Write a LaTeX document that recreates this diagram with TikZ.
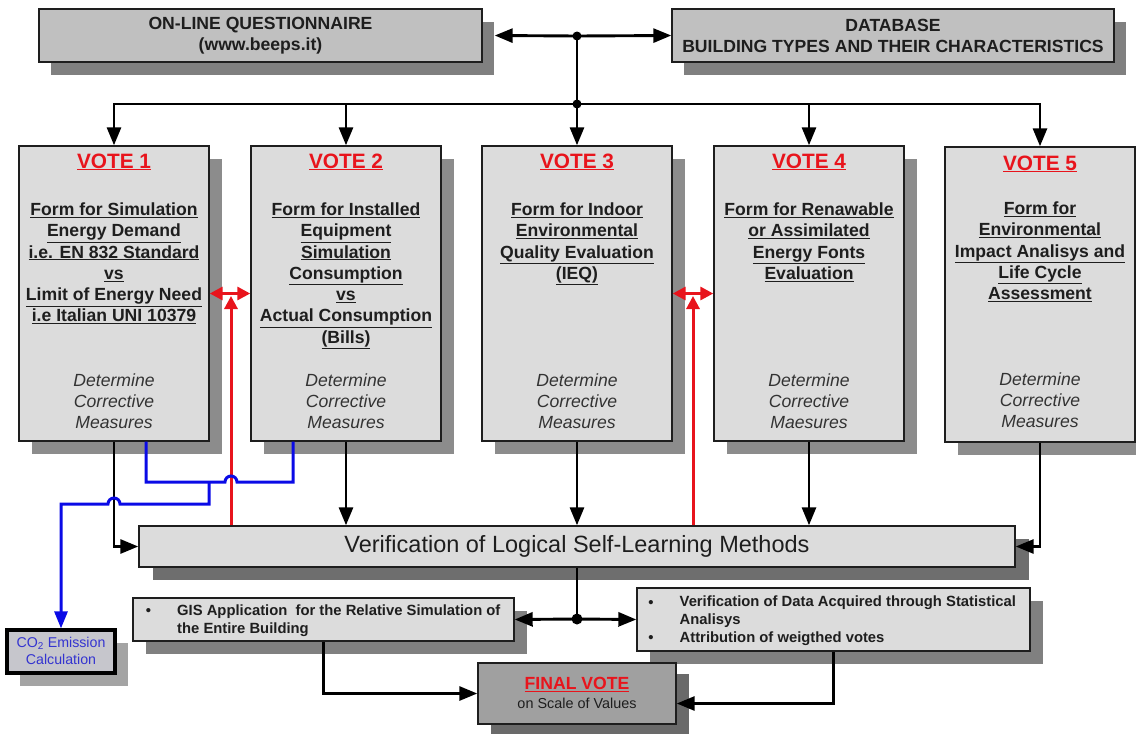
\documentclass[tikz,border=0pt]{standalone}
\usepackage{fontspec}
\setmainfont{Liberation Sans}
\usetikzlibrary{arrows.meta,shadows}

\definecolor{topfill}{HTML}{C0C0C0}
\definecolor{topshade}{HTML}{808080}
\definecolor{votefill}{HTML}{DCDCDC}
\definecolor{voteshade}{HTML}{8C8C8C}
\definecolor{vershade}{HTML}{6E6E6E}
\definecolor{finfill}{HTML}{A0A0A0}
\definecolor{finshade}{HTML}{6A6A6A}
\definecolor{co2fill}{HTML}{C6C6CC}
\definecolor{co2shade}{HTML}{A4A4A4}
\definecolor{votered}{HTML}{E8141C}
\definecolor{linkblue}{HTML}{0A0AE6}
\definecolor{ink}{HTML}{1E1E1E}
\definecolor{softink}{HTML}{333333}
\definecolor{co2text}{HTML}{3434D0}

\newcommand{\ulx}[1]{\underline{#1}}

\begin{document}
\begin{tikzpicture}[x=1pt,y=-1pt,
  box/.style={draw=ink, line width=1.4pt, inner sep=0pt},
  topbox/.style={box, fill=topfill, minimum height=53pt,
    drop shadow={shadow xshift=12pt,shadow yshift=-13pt,fill=topshade,opacity=1}},
  votebox/.style={box, fill=votefill, minimum width=190pt, minimum height=295pt,
    drop shadow={shadow xshift=13pt,shadow yshift=-13pt,fill=voteshade,opacity=1}},
  verbox/.style={box, fill=votefill,
    drop shadow={shadow xshift=14pt,shadow yshift=-13pt,fill=vershade,opacity=1}},
  listbox/.style={box, fill=votefill,
    drop shadow={shadow xshift=13pt,shadow yshift=-13pt,fill=topshade,opacity=1}},
  finbox/.style={box, fill=finfill,
    drop shadow={shadow xshift=13pt,shadow yshift=-11pt,fill=finshade,opacity=1}},
  co2box/.style={draw=black, line width=3.2pt, inner sep=0pt, fill=co2fill,
    drop shadow={shadow xshift=13pt,shadow yshift=-13pt,fill=co2shade,opacity=1}},
  toptext/.style={align=center, inner sep=0pt, text=ink,
    font=\fontsize{17.6}{21}\selectfont\bfseries},
  votetitle/.style={anchor=base, inner sep=0pt, text=votered,
    font=\fontsize{20.8}{24}\selectfont\bfseries},
  votebody/.style={anchor=north, align=center, inner sep=0pt, text=ink,
    font=\fontsize{17.6}{21.3}\selectfont\bfseries},
  voteital/.style={align=center, inner sep=0pt, text=softink,
    font=\fontsize{17.6}{21}\selectfont\itshape},
  listtext/.style={anchor=west, align=left, inner sep=0pt, text=ink,
    font=\fontsize{14.8}{18}\selectfont\bfseries},
  bullet/.style={anchor=base, inner sep=0pt, text=ink,
    font=\fontsize{14.8}{18}\selectfont\bfseries},
  wire/.style={line width=2.9pt, draw=black},
  arr/.style={wire, -{Triangle[length=18pt,width=14pt]}},
  redtip/.style={-{Triangle[length=13pt,width=13pt]}},
  redwire/.style={line width=3pt, draw=votered},
  bluewire/.style={line width=3pt, draw=linkblue}
]
\useasboundingbox (0,0) rectangle (1136,734);

% ---------- top row ----------
\node[topbox, minimum width=443pt] (q) at (260.5,35.5) {};
\node[toptext] (qt) at (260.5,35.5) {ON-LINE QUESTIONNAIRE\\(www.beeps.it)};
\node[topbox, minimum width=442pt] (db) at (893,35.5) {};
\node[toptext] (dbt) at (893,35.5) {DATABASE\\BUILDING TYPES AND THEIR CHARACTERISTICS};

% ---------- the five vote forms ----------
\node[votebox] (v1) at (114,293.5) {};
\node[votebox] (v2) at (346,293.5) {};
\node[votebox] (v3) at (577,293.5) {};
\node[votebox] (v4) at (809,293.5) {};
\node[votebox] (v5) at (1040,294.5) {};

\node[votetitle] (t1) at (114,168) {\ulx{VOTE 1}};
\node[votetitle] (t2) at (346,168) {\ulx{VOTE 2}};
\node[votetitle] (t3) at (577,168) {\ulx{VOTE 3}};
\node[votetitle] (t4) at (809,168) {\ulx{VOTE 4}};
\node[votetitle] (t5) at (1040,170) {\ulx{VOTE 5}};

\node[votebody] (b1) at (114,202.5) {\ulx{Form for Simulation}\\\ulx{Energy Demand}\\
  \ulx{i.e. EN 832 Standard}\\\ulx{vs}\\\ulx{Limit of Energy Need}\\\ulx{i.e Italian UNI 10379}};
\node[votebody] (b2) at (346,202.5) {\ulx{Form for Installed}\\\ulx{Equipment}\\
  \ulx{Simulation}\\\ulx{Consumption}\\\ulx{vs}\\\ulx{Actual Consumption}\\\ulx{(Bills)}};
\node[votebody] (b3) at (577,202.5) {\ulx{Form for Indoor}\\\ulx{Environmental}\\
  \ulx{Quality Evaluation}\\\ulx{(IEQ)}};
\node[votebody] (b4) at (809,202.5) {\ulx{Form for Renawable}\\\ulx{or Assimilated}\\
  \ulx{Energy Fonts}\\\ulx{Evaluation}};
\node[votebody] (b5) at (1040,201.5) {\ulx{Form for}\\\ulx{Environmental}\\
  \ulx{Impact Analisys and}\\\ulx{Life Cycle}\\\ulx{Assessment}};

\node[voteital] (m1) at (114,401) {Determine\\Corrective\\Measures};
\node[voteital] (m2) at (346,401) {Determine\\Corrective\\Measures};
\node[voteital] (m3) at (577,401) {Determine\\Corrective\\Measures};
\node[voteital] (m4) at (809,401) {Determine\\Corrective\\Maesures};
\node[voteital] (m5) at (1040,400) {Determine\\Corrective\\Measures};

% ---------- verification and results ----------
\node[verbox, minimum width=876pt, minimum height=41pt] (ver) at (577,546.5) {};
\node[inner sep=0pt, text=ink, font=\fontsize{23.5}{28}\selectfont] (vert) at (577,546.5)
  {Verification of Logical Self-Learning Methods};

\node[listbox, minimum width=381pt, minimum height=43pt] (gis) at (323.5,619.5) {};
\node[bullet] (gb) at (148.5,615.3) {•};
\node[listtext] (gt) at (177,620.5) {GIS Application~ for the Relative Simulation of\\the Entire Building};

\node[listbox, minimum width=393pt, minimum height=63pt] (stat) at (833.5,619.5) {};
\node[bullet] (sb1) at (651,607.3) {•};
\node[bullet] (sb2) at (651,642.3) {•};
\node[listtext] (st) at (679.5,621) {Verification of Data Acquired through Statistical\\Analisys\\Attribution of weigthed votes};

\node[co2box, minimum width=108pt, minimum height=43pt] (co2) at (61,651.5) {};
\node[align=center, inner sep=0pt, text=co2text, font=\fontsize{14.2}{17}\selectfont]
  (co2t) at (61,651) {CO\textsubscript{2} Emission\\Calculation};

\node[finbox, minimum width=198pt, minimum height=61pt] (fin) at (577,693.5) {};
\node[anchor=base, inner sep=0pt, text=votered, font=\fontsize{17.6}{21}\selectfont\bfseries]
  (fint) at (577,689.3) {\ulx{FINAL VOTE}};
\node[inner sep=0pt, text=ink, font=\fontsize{14.4}{17}\selectfont] (fins) at (577,703) {on Scale of Values};

% ---------- junctions ----------
\coordinate (j1) at (577,36);
\coordinate (j2) at (577,104);
\coordinate (j3) at (577,619);

% ---------- black connectors ----------
\draw[wire] (j1) -- (j2);
\draw[arr] (j1) -- ([xshift=12pt]q.east);
\draw[arr] (j1) -- (db.west);
\draw[arr] (j2) -| (v1.north);
\draw[arr] (j2) -| (v2.north);
\draw[arr] (j2) -- (v3.north);
\draw[arr] (j2) -| (v4.north);
\draw[arr] (j2) -| (v5.north);

\draw[arr] (v1.south) |- (ver.west);
\draw[arr] (v2.south) -- (v2.south |- ver.north);
\draw[arr] (v3.south) -- (v3.south |- ver.north);
\draw[arr] (v4.south) -- (v4.south |- ver.north);
\draw[arr] (v5.south) |- (ver.east);

\draw[wire] (ver.south) -- (j3);
\draw[arr] (j3) -- (gis.east);
\draw[arr] (j3) -- (stat.west);
\draw[arr] (gis.south) |- (fin.west);
\draw[arr] (stat.south) |- ([yshift=-10pt]fin.east);

\fill (j1) circle (4.5pt);
\fill (j2) circle (4.5pt);
\fill (j3) circle (5.5pt);

% ---------- red feedback links ----------
\coordinate (rA) at (231,296);
\coordinate (rB) at (693,296);
\draw[redwire, {Triangle[length=13pt,width=13pt]}-{Triangle[length=13pt,width=13pt]}] (v1.east) -- (v2.west);
\draw[redwire, {Triangle[length=13pt,width=13pt]}-{Triangle[length=13pt,width=13pt]}] (v3.east) -- (v4.west);
\draw[redwire, redtip] (ver.north -| rA) -- (rA);
\draw[redwire, redtip] (ver.north -| rB) -- (rB);

% ---------- blue links to the CO2 calculation ----------
\coordinate (bxA) at (146,0);
\coordinate (bxB) at (293,0);
\coordinate (bxJ) at (209,0);
\coordinate (rowA) at (0,482);
\coordinate (rowB) at (0,504);
\draw[bluewire, line join=miter] (v1.south -| bxA) -- (bxA |- rowA) -- (225,482)
  arc[start angle=180, end angle=0, radius=6pt] -- (bxB |- rowA) -- (v2.south -| bxB);
\draw[bluewire, line join=miter, -{Triangle[length=17pt,width=13pt]}] (bxJ |- rowA) -- (bxJ |- rowB) -- (120,504)
  arc[start angle=0, end angle=180, radius=6pt] -- (co2.north |- rowB) -- (co2.north);
\end{tikzpicture}
\end{document}
